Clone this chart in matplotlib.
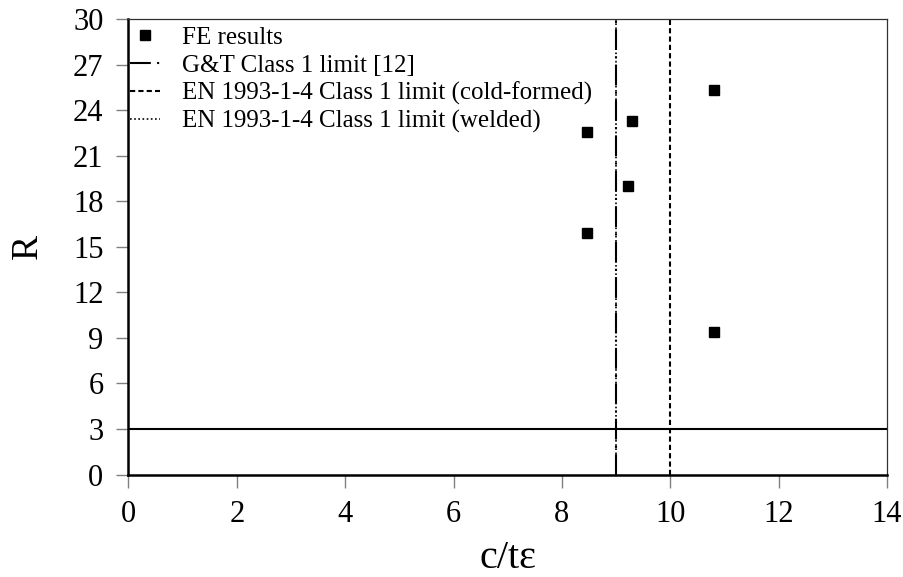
import matplotlib
matplotlib.use("Agg")
import matplotlib.pyplot as plt

plt.rcParams['font.family'] = ['Liberation Serif', 'DejaVu Serif']

# FE results
ct_eps = [10.81, 9.30, 8.46, 9.22, 8.46, 10.81]
R_vals = [25.33, 23.29, 22.54, 19.0, 15.93, 9.37]

# limits
gt_limit = 9.0
en_cold_limit = 10.0
en_welded_limit = 9.0
R_limit = 3.0

x_ticks = [0, 2, 4, 6, 8, 10, 12, 14]
y_ticks = [0, 3, 6, 9, 12, 15, 18, 21, 24, 27, 30]

fig = plt.figure(figsize=(9.04, 5.77), dpi=100)
ax = fig.add_axes([0.1421, 0.1776, 0.8391, 0.7894])

ax.plot(ct_eps, R_vals, 'ks', markersize=7, linestyle='none', label='FE results')
ax.axvline(gt_limit, color='k', lw=1.5, linestyle=(0, (10, 3, 1, 3)),
           label='G&T Class 1 limit [12]')
ax.axvline(en_cold_limit, color='k', lw=1.5, linestyle=(0, (2.5, 1.5)),
           label='EN 1993-1-4 Class 1 limit (cold-formed)')
ax.axvline(en_welded_limit, color='k', lw=1.2, linestyle=(0, (1, 1.5)),
           label='EN 1993-1-4 Class 1 limit (welded)')
ax.axhline(R_limit, color='k', lw=1.5)

ax.set_xlim(0, 14)
ax.set_ylim(0, 30)
ax.set_xticks(x_ticks)
ax.set_yticks(y_ticks)
ax.tick_params(axis='both', direction='out', length=9, width=1, color='#808080',
               labelsize=22, pad=9)

for side in ['left', 'bottom']:
    ax.spines[side].set_linewidth(1.8)
    ax.spines[side].set_color('k')
for side in ['top', 'right']:
    ax.spines[side].set_linewidth(0.9)
    ax.spines[side].set_color('#303030')

ax.set_xlabel('c/tε', fontsize=29, labelpad=8)
ax.set_ylabel('R', fontsize=27, labelpad=20)

ax.legend(loc='upper left', bbox_to_anchor=(-0.008, 1.0), frameon=False,
          fontsize=18, handlelength=1.2, handletextpad=0.9, borderaxespad=0.1,
          labelspacing=0.2, borderpad=0.2)

fig.savefig('out.png', dpi=100)
